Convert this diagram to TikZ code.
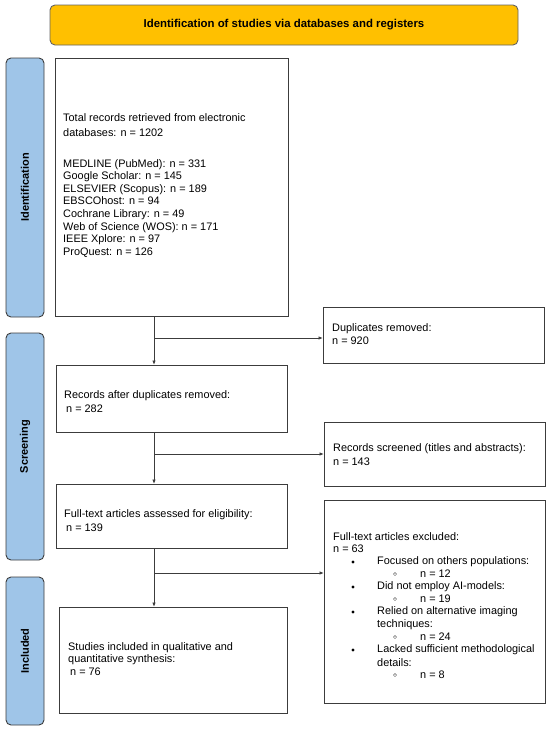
\documentclass[tikz,border=0pt]{standalone}
\usepackage{fontspec}
\setmainfont{Liberation Sans}
\usetikzlibrary{arrows.meta,positioning}
\definecolor{banner}{HTML}{FFC000}
\definecolor{sideblue}{HTML}{9FC5E8}
\definecolor{edge}{HTML}{3C3C3C}
\tikzset{
  box/.style={draw=edge, line width=0.9pt, fill=white, inner sep=0pt, anchor=north west},
  side/.style={draw=edge, line width=0.9pt, fill=sideblue, rounded corners=5pt, rotate=90,
    inner sep=0pt, minimum height=38pt, font=\fontsize{11}{13}\selectfont\bfseries},
  txt/.style={anchor=west, inner sep=0pt, font=\fontsize{10.9}{12.6}\selectfont},
  conn/.style={draw=edge, line width=0.9pt},
  arr/.style={conn, -{Latex[length=4.5pt,width=3.5pt]}}
}
\begin{document}
\begin{tikzpicture}[x=1pt,y=-1pt]
\useasboundingbox (0,0) rectangle (550,732);
% banner
\node[draw=edge!80, line width=0.9pt, fill=banner, rounded corners=5pt, minimum width=468pt,
  minimum height=40pt, inner sep=0pt, font=\fontsize{11.4}{13}\selectfont\bfseries]
  (ban) at (284,25) {Identification of studies via databases and registers};
% side labels
\node[side, minimum width=259pt] (sid) at (25,187.5) {Identification};
\node[side, minimum width=227pt] (sscr) at (25,446.5) {Screening};
\node[side, minimum width=148pt] (sinc) at (25,651) {Included};
% main boxes
\node[box, minimum width=233pt, minimum height=258pt] (b1) at (55,58) {};
\node[box, minimum width=231pt, minimum height=67pt] (b2) at (56,365) {};
\node[box, minimum width=231pt, minimum height=64pt] (b3) at (56,484) {};
\node[box, minimum width=228pt, minimum height=106pt] (b4) at (59,607) {};
% right boxes
\node[box, minimum width=221pt, minimum height=56pt] (dup) at (323,307) {};
\node[box, minimum width=221pt, minimum height=64pt] (scr) at (324,422) {};
\node[box, minimum width=221pt, minimum height=203pt] (exc) at (324,500) {};
% texts box1
\node[txt] (t1a) at (63,118) {Total records retrieved from electronic};
\node[txt] (t1b) at (63,133) {databases: n = 1202};
\node[txt, anchor=north west] (t1c) at (63,158) {\begin{tabular}{@{}l@{}}
MEDLINE (PubMed): n = 331\\
Google Scholar: n = 145\\
ELSEVIER (Scopus): n = 189\\
EBSCOhost: n = 94\\
Cochrane Library: n = 49\\
Web of Science (WOS): n = 171\\
IEEE Xplore: n = 97\\
ProQuest: n = 126
\end{tabular}};
% box2,3,4
\node[txt] (t2a) at (64,396) {Records after duplicates removed:};
\node[txt] (t2b) at (66,409) {n = 282};
\node[txt] (t3a) at (64,515) {Full-text articles assessed for eligibility:};
\node[txt] (t3b) at (66,528) {n = 139};
\node[txt] (t4a) at (68,648) {Studies included in qualitative and};
\node[txt] (t4b) at (68,660) {quantitative synthesis:};
\node[txt] (t4c) at (70,672) {n = 76};
% right texts
\node[txt] (tda) at (332,329) {Duplicates removed:};
\node[txt] (tdb) at (332,341) {n = 920};
\node[txt] (tsa) at (333,449) {Records screened (titles and abstracts):};
\node[txt] (tsb) at (333,462) {n = 143};
\node[txt] (tea) at (333,537) {Full-text articles excluded:};
\node[txt] (teb) at (333,549) {n = 63};
\foreach \y/\t in {562/Focused on others populations:, 587/Did not employ AI-models:,
  612/Relied on alternative imaging, 650/Lacked sufficient methodological}{
  \fill[black] (353,\y) circle (1.6pt);
  \node[txt] at (377,\y) {\t};
}
\node[txt] at (377,625) {techniques:};
\node[txt] at (377,663) {details:};
\foreach \y/\n in {574/12, 599/19, 637/24, 675/8}{
  \draw[black!60, line width=0.5pt] (395,\y) circle (1.6pt);
  \node[txt] at (420,\y) {n = \n};
}
% connectors
\coordinate (j1) at (154,338);
\coordinate (j2) at (154,454);
\coordinate (j3) at (154,573);
\draw[arr] (b1.south -| j1) -- (b2.north -| j1);
\draw[arr] (j1) -- (dup.west |- j1);
\draw[arr] (b2.south -| j2) -- (b3.north -| j2);
\draw[arr] (j2) -- (scr.west |- j2);
\draw[arr] (b3.south -| j3) -- (b4.north -| j3);
\draw[arr] (j3) -- (exc.west |- j3);
\end{tikzpicture}
\end{document}
